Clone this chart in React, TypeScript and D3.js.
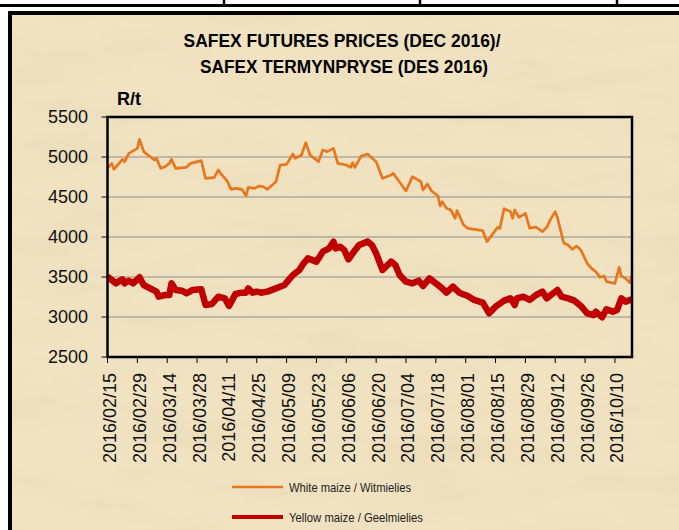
import React from "react";
import * as d3 from "d3";

const whiteDates = [
  "02-15","02-17","02-18","02-22","02-23","02-25","02-29","03-01","03-03","03-05","03-08","03-09","03-11","03-13","03-15","03-16","03-18","03-23","03-25",
  "03-30","04-01","04-05","04-07","04-08","04-11","04-13","04-15","04-18","04-20","04-21","04-24","04-26","04-28","04-30","05-04","05-06","05-09","05-12","05-13",
  "05-16","05-18","05-20","05-24","05-26","05-28","05-31","06-02","06-06","06-08","06-09","06-10","06-13","06-16","06-20","06-23","06-27","06-28","07-04","07-07",
  "07-11","07-12","07-14","07-16","07-19","07-20","07-21","07-23","07-25","07-27","07-28","07-31","08-02","08-05","08-09","08-11","08-16","08-17","08-19","08-22",
  "08-23","08-24","08-26","08-29","08-31","09-03","09-06","09-08","09-10","09-12","09-13","09-16","09-18","09-20","09-22","09-24","09-27","09-29","10-01","10-03",
  "10-05","10-06","10-10","10-12","10-13","10-15","10-17","10-18"
];
const whiteValues = [
  4860,4920,4846,4971,4941,5046,5108,5221,5067,5025,4962,4983,4858,4879,4921,4971,4858,4871,4921,
  4954,4733,4742,4838,4796,4704,4596,4608,4596,4517,4621,4608,4637,4629,4596,4692,4900,4908,5037,4983,
  5025,5179,5025,4942,5088,5067,5108,4921,4900,4871,4929,4871,5012,5037,4942,4733,4775,4796,4575,4754,
  4692,4588,4663,4575,4513,4388,4442,4358,4338,4233,4329,4150,4108,4096,4079,3942,4121,4108,4354,4317,
  4233,4338,4246,4296,4110,4125,4067,4121,4233,4317,4246,3925,3900,3846,3888,3838,3671,3608,3567,3496,
  3513,3442,3421,3621,3513,3483,3429,3525
];

const yellowDates = [
  "02-15","02-19","02-22","02-23","02-25","02-27","03-01","03-03","03-06","03-09","03-10","03-13","03-15","03-16","03-18","03-21","03-23","03-26",
  "03-30","04-01","04-04","04-07","04-10","04-12","04-15","04-18","04-20","04-21","04-23","04-25","04-27","04-30","05-04","05-08","05-10","05-12",
  "05-15","05-17","05-19","05-23","05-26","05-29","05-31","06-01","06-03","06-05","06-07","06-09","06-12","06-16","06-18","06-20","06-23","06-27",
  "06-29","07-01","07-04","07-07","07-10","07-12","07-15","07-18","07-21","07-23","07-26","07-29","08-02","08-05","08-09","08-12","08-15","08-19",
  "08-22","08-24","08-25","08-28","08-31","09-03","09-06","09-08","09-10","09-13","09-15","09-18","09-21","09-24","09-27","09-30","10-01","10-04",
  "10-06","10-09","10-11","10-13","10-15","10-18"
];
const yellowValues = [
  3504,3421,3471,3421,3454,3421,3496,3400,3358,3317,3254,3275,3275,3421,3338,3329,3296,3338,
  3346,3150,3163,3254,3233,3138,3288,3304,3304,3358,3304,3317,3304,3317,3358,3400,3463,3525,
  3588,3671,3733,3692,3817,3858,3942,3858,3879,3838,3721,3796,3900,3942,3900,3796,3588,3692,
  3650,3525,3442,3421,3454,3388,3483,3421,3358,3304,3379,3304,3263,3213,3179,3046,3129,3204,
  3233,3150,3233,3254,3213,3275,3317,3233,3275,3338,3254,3233,3204,3138,3046,3025,3067,2996,
  3096,3067,3088,3233,3192,3221
];

const xTickDates = [
  "02-15","02-29","03-14","03-28","04-11","04-25","05-09","05-23","06-06",
  "06-20","07-04","07-18","08-01","08-15","08-29","09-12","09-26","10-10"
];
const yTicks = [2500, 3000, 3500, 4000, 4500, 5000, 5500];

const seriesNames = ["White maize / Witmielies", "Yellow maize / Geelmielies"];
const titleLines = ["SAFEX FUTURES PRICES (DEC 2016)/", "SAFEX TERMYNPRYSE (DES 2016)"];

const parse = d3.timeParse("%Y-%m-%d");
const d = (s: string) => parse("2016-" + s) as Date;
const fmt = d3.timeFormat("%Y/%m/%d");

export default function App() {
  const left = 107.5, right = 632, top = 117, bottom = 357;
  const x = d3.scaleTime().domain([d("02-15"), d("10-18")]).range([left, right]);
  const y = d3.scaleLinear().domain([2500, 5500]).range([bottom, top]);
  const line = d3.line<[Date, number]>().x(p => x(p[0])).y(p => y(p[1]));
  const white: [Date, number][] = whiteDates.map((s, i) => [d(s), whiteValues[i]]);
  const yellow: [Date, number][] = yellowDates.map((s, i) => [d(s), yellowValues[i]]);
  const font = "'Liberation Sans', Arial, sans-serif";
  const orange = "#e8761c";
  const red = "#c00000";

  return (
    <svg width={679} height={530} style={{ position: "absolute", left: 0, top: 0 }} fontFamily={font}>
      <defs>
        <filter id="paper" x="0" y="0" width="100%" height="100%">
          <feTurbulence type="fractalNoise" baseFrequency="0.008 0.03" numOctaves={4} seed={7} result="n" />
          <feColorMatrix in="n" type="matrix"
            values="0 0 0 0 0.80  0 0 0 0 0.68  0 0 0 0 0.46  1.3 0 0 0 -0.55" />
        </filter>
        <clipPath id="plotclip">
          <rect x={left} y={top - 5} width={right - left} height={bottom - top + 10} />
        </clipPath>
      </defs>
      <rect x={0} y={0} width={679} height={530} fill="#ffffff" />
      {/* top table strip */}
      <line x1={0} x2={679} y1={5.5} y2={5.5} stroke="#000" strokeWidth={3} />
      {[224, 420, 617].map(v => (
        <line key={v} x1={v} x2={v} y1={0} y2={6} stroke="#000" strokeWidth={2.5} />
      ))}
      {/* parchment */}
      <rect x={8} y={11} width={671} height={519} fill="#f1e3c2" />
      <rect x={8} y={11} width={671} height={519} filter="url(#paper)" />
      <line x1={8} x2={679} y1={13} y2={13} stroke="#000" strokeWidth={4} />
      <line x1={10} x2={10} y1={11} y2={530} stroke="#000" strokeWidth={4} />

      {/* title */}
      <text x={342} y={47} textAnchor="middle" fontWeight="bold" fontSize={18} fill="#000"
        textLength={317} lengthAdjust="spacingAndGlyphs">{titleLines[0]}</text>
      <text x={344} y={73} textAnchor="middle" fontWeight="bold" fontSize={18} fill="#000"
        textLength={288} lengthAdjust="spacingAndGlyphs">{titleLines[1]}</text>
      <text x={117} y={105} fontWeight="bold" fontSize={18} fill="#000">R/t</text>

      {/* grid */}
      {yTicks.slice(1, -1).map(t => (
        <line key={t} x1={left} x2={right} y1={y(t)} y2={y(t)} stroke="#8e8e8e" strokeWidth={1} />
      ))}
      {/* y axis ticks and labels */}
      {yTicks.map(t => (
        <g key={t}>
          <line x1={left - 6} x2={left} y1={y(t)} y2={y(t)} stroke="#000" strokeWidth={1} />
          <text x={88} y={y(t)} dy="0.36em" textAnchor="end" fontSize={18} fill="#111">{t}</text>
        </g>
      ))}
      {/* x axis ticks and labels */}
      {xTickDates.map(s => {
        const xv = x(d(s));
        return (
          <g key={s}>
            <line x1={xv} x2={xv} y1={bottom} y2={bottom + 6} stroke="#000" strokeWidth={1} />
            <text transform={`translate(${xv + 2},${bottom + 16}) rotate(-90)`} dy="0.36em"
              textAnchor="end" fontSize={18} fill="#111">{fmt(d(s))}</text>
          </g>
        );
      })}

      {/* series */}
      <g clipPath="url(#plotclip)">
        <path d={line(white) || ""} fill="none" stroke={orange} strokeWidth={2.7} strokeLinejoin="round" />
        <path d={line(yellow) || ""} fill="none" stroke={red} strokeWidth={6.5} strokeLinejoin="round" />
      </g>

      {/* plot border */}
      <rect x={left} y={top} width={right - left} height={bottom - top} fill="none" stroke="#000" strokeWidth={2.5} />

      {/* legend */}
      <line x1={232} x2={283} y1={487} y2={487} stroke={orange} strokeWidth={2.5} />
      <text x={289} y={487} dy="0.36em" fontSize={13} fill="#222"
        textLength={122} lengthAdjust="spacingAndGlyphs">{seriesNames[0]}</text>
      <line x1={232} x2={283} y1={517} y2={517} stroke={red} strokeWidth={4} />
      <text x={289} y={517} dy="0.36em" fontSize={13} fill="#222"
        textLength={134} lengthAdjust="spacingAndGlyphs">{seriesNames[1]}</text>
    </svg>
  );
}
